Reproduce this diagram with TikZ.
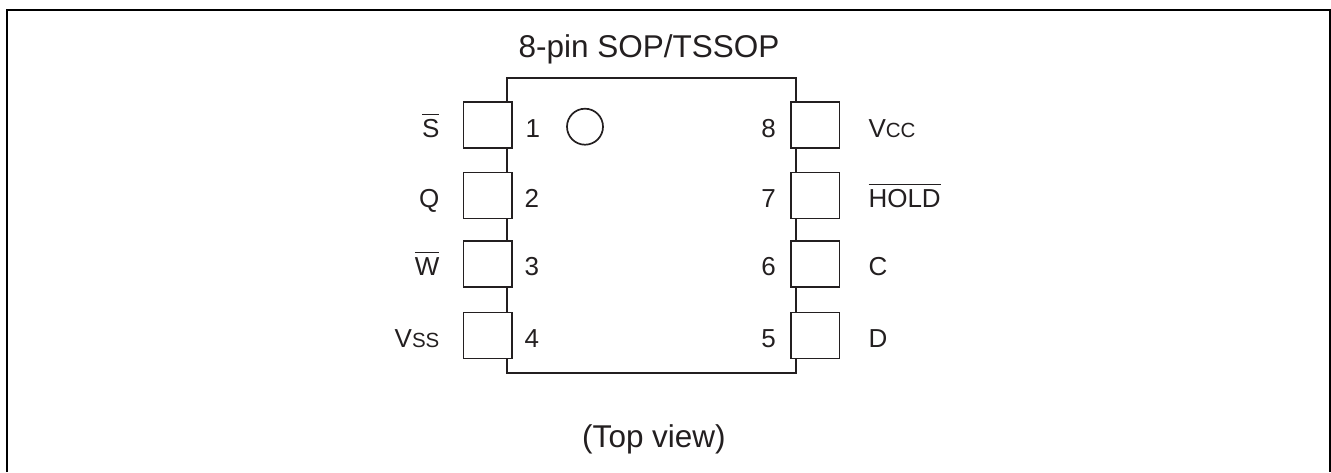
\documentclass[tikz,border=0pt]{standalone}
\usepackage{fontspec}
\setmainfont{Liberation Sans}
\usetikzlibrary{positioning}
\definecolor{ink}{HTML}{231F20}
\tikzstyle{chip} = [rectangle, draw=ink, line width=1.7pt, minimum width=289.5pt, minimum height=295pt, inner sep=0pt]
\tikzstyle{pinbox} = [rectangle, draw=ink, fill=white, line width=1.7pt, minimum width=48.5pt, minimum height=46pt, inner sep=0pt]
\tikzstyle{mark_dot} = [circle, draw=ink, line width=1.7pt, minimum size=36pt, inner sep=0pt]
\tikzstyle{txt} = [inner sep=0pt, text=ink, font=\fontsize{26}{26}\selectfont, text height=18.6pt, text depth=0pt]
\tikzstyle{heading} = [inner sep=0pt, text=ink, font=\fontsize{31.5}{31.5}\selectfont, text height=22.5pt, text depth=0pt]
\newcommand{\barred}[1]{$\overline{\mbox{\rule{0pt}{22pt}#1}}$}
\newcommand{\lowcap}[1]{{\fontsize{20.5}{20.5}\selectfont #1}}
\begin{document}
\begin{tikzpicture}[x=1pt, y=-1pt, node distance=70.5pt]
\useasboundingbox (0,0) rectangle (1331,472);
% Frame
\draw [line width=2pt, black] (7,472) -- (7,10) -- (1330,10) -- (1330,472);

% Package
\node (chip) [chip] at (651.5,225.5) {};
\node (title) [heading] at (649,46) {8-pin SOP/TSSOP};
\node (view) [heading] at (654,436.7) {(Top view)};
\node (dot) [mark_dot] at (585,126.7) {};

% Pins
\node (p1) [pinbox] at (487.7,125) {};
\node (p2) [pinbox, below of=p1] {};
\node (p3) [pinbox, below of=p2, yshift=2.2pt] {};
\node (p4) [pinbox, below of=p3, yshift=-1.2pt] {};
\node (p8) [pinbox] at (815.2,125) {};
\node (p7) [pinbox, below of=p8] {};
\node (p6) [pinbox, below of=p7, yshift=2.2pt] {};
\node (p5) [pinbox, below of=p6, yshift=-1.2pt] {};

% Numbers
\node (n1) [txt, right=12.5pt of p1, yshift=-2.8pt] {1};
\node (n2) [txt, right=11.5pt of p2, yshift=-2.8pt] {2};
\node (n3) [txt, right=11.5pt of p3, yshift=-2.8pt] {3};
\node (n4) [txt, right=11.5pt of p4, yshift=-2.8pt] {4};
\node (n8) [txt, left=14pt of p8, yshift=-2.8pt] {8};
\node (n7) [txt, left=14pt of p7, yshift=-2.8pt] {7};
\node (n6) [txt, left=14pt of p6, yshift=-2.8pt] {6};
\node (n5) [txt, left=14pt of p5, yshift=-2.8pt] {5};

% Signals
\node (s) [txt, left=23pt of p1, yshift=-2.8pt] {\barred{S}};
\node (q) [txt, left=23pt of p2, yshift=-2.8pt] {Q};
\node (w) [txt, left=23pt of p3, yshift=-2.8pt] {\barred{W}};
\node (vss) [txt, left=23pt of p4, yshift=-2.8pt] {V\lowcap{SS}};
\node (vcc) [txt, right=28pt of p8, yshift=-2.8pt] {V\lowcap{CC}};
\node (hold) [txt, right=28pt of p7, yshift=-2.8pt] {\barred{HOLD}};
\node (c) [txt, right=28pt of p6, yshift=-2.8pt] {C};
\node (d) [txt, right=28pt of p5, yshift=-2.8pt] {D};
\end{tikzpicture}
\end{document}
